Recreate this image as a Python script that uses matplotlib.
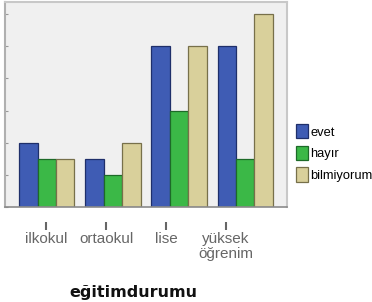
import matplotlib
matplotlib.use("Agg")
import matplotlib.pyplot as plt
from matplotlib.patches import Patch
import numpy as np

categories = ["ilkokul", "ortaokul", "lise", "yüksek\nöğrenim"]
series_names = ["evet", "hayır", "bilmiyorum"]
evet = [4, 3, 10, 10]
hayir = [3, 2, 6, 3]
bilmiyorum = [3, 4, 10, 12]
xlabel = "eğitimdurumu"

colors = ["#3f5cb4", "#3bb847", "#d9d09b"]
edges = ["#1f2f6a", "#1d6a28", "#77704a"]

W, H = 372, 302
fig = plt.figure(figsize=(W / 100, H / 100), dpi=100)
fig.patch.set_facecolor("white")

def px_axes(l, t, r, b):
    return [l / W, 1 - b / H, (r - l) / W, (b - t) / H]

ax = fig.add_axes(px_axes(5, 2, 287, 207))
ax.set_facecolor("#f0f0f0")
x = np.arange(len(categories))
bw = 0.278
for i, (vals, c, e) in enumerate(zip([evet, hayir, bilmiyorum], colors, edges)):
    ax.bar(x + (i - 1) * bw, vals, width=bw, color=c, edgecolor=e, linewidth=0.9)
ax.set_xlim(-0.63, 3.63)
ax.set_ylim(0, 12.75)
ax.set_yticks(range(0, 13, 2))
ax.set_yticklabels([])
ax.set_xticks([])
ax.tick_params(axis="y", direction="in", length=2.5, color="#999999", width=0.8)
for s in ["top", "right"]:
    ax.spines[s].set_color("#c8c8c8")
    ax.spines[s].set_linewidth(1.5)
ax.spines["left"].set_color("#b0b0b0")
ax.spines["left"].set_linewidth(1.5)
ax.spines["bottom"].set_color("#8a8a8a")
ax.spines["bottom"].set_linewidth(1.2)

# category labels axis
ax2 = fig.add_axes(px_axes(16, 215, 256, 222))
ax2.set_xlim(-0.5, 3.5)
ax2.set_ylim(0, 1)
ax2.patch.set_visible(False)
for s in ax2.spines.values():
    s.set_visible(False)
ax2.set_yticks([])
ax2.set_xticks(x)
ax2.set_xticklabels(categories, fontsize=11, color="#666666",
                    family=["Liberation Sans", "DejaVu Sans"], linespacing=1.05)
ax2.tick_params(axis="x", direction="out", length=6, width=1.5, color="#666666", pad=1.5)

fig.text(133 / W, 1 - 293 / H, xlabel, ha="center", va="center",
         fontsize=11.5, fontweight="bold", color="#111111",
         family=["DejaVu Sans"])

handles = [Patch(facecolor=c, edgecolor=e, linewidth=0.9) for c, e in zip(colors, edges)]
fig.legend(handles, series_names, loc="upper left",
           bbox_to_anchor=(296 / W, 1 - 124 / H), frameon=False,
           prop={"family": ["Liberation Sans", "DejaVu Sans"], "size": 9.3},
           handlelength=0.95, handleheight=1.35, handletextpad=0.15,
           labelspacing=0.55, borderaxespad=0, borderpad=0)

fig.savefig("out.png", dpi=100)
